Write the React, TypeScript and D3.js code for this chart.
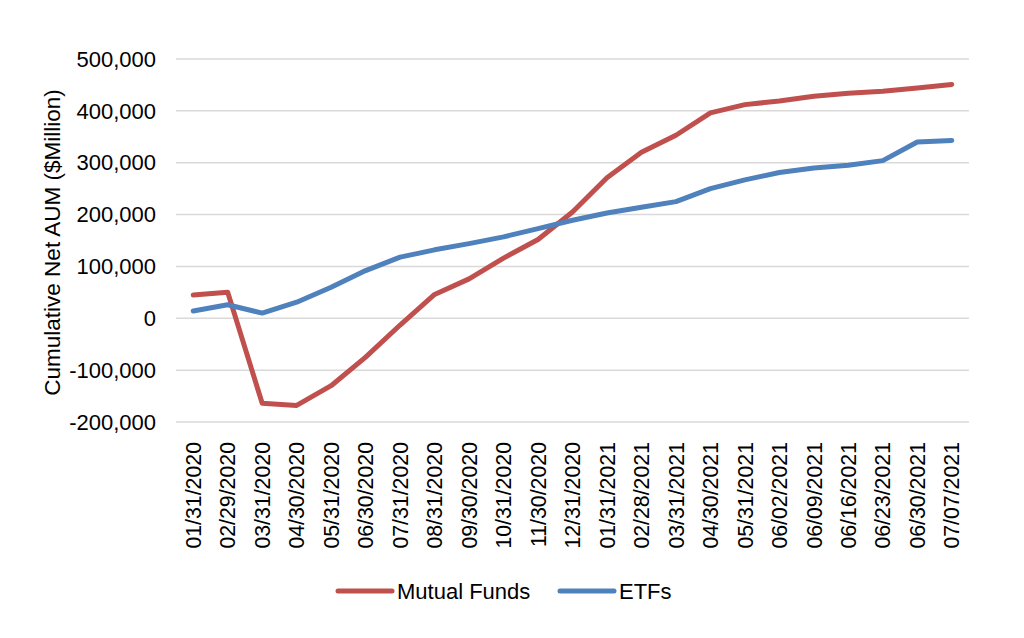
import React, { useEffect, useRef } from 'react';
import * as d3 from 'd3';

const dates = [
  '01/31/2020', '02/29/2020', '03/31/2020', '04/30/2020', '05/31/2020', '06/30/2020',
  '07/31/2020', '08/31/2020', '09/30/2020', '10/31/2020', '11/30/2020', '12/31/2020',
  '01/31/2021', '02/28/2021', '03/31/2021', '04/30/2021', '05/31/2021', '06/02/2021',
  '06/09/2021', '06/16/2021', '06/23/2021', '06/30/2021', '07/07/2021',
];

const mutualFunds = [
  45000, 50000, -164000, -168000, -130000, -75000, -13000, 46000, 76000, 116000, 152000, 205000,
  271000, 320000, 353000, 396000, 412000, 419000, 428000, 434000, 438000, 444000, 451000,
];

const etfs = [
  14000, 26000, 10000, 31000, 60000, 92000, 118000, 132000, 144000, 157000, 173000, 189000,
  203000, 214000, 225000, 250000, 267000, 281000, 290000, 295000, 304000, 340000, 343000,
];

const yTicks = [-200000, -100000, 0, 100000, 200000, 300000, 400000, 500000];

const RED = '#C0504D';
const BLUE = '#4F81BD';
const FONT = '"Liberation Sans", Arial, sans-serif';

const Chart = () => {
  const ref = useRef<SVGSVGElement>(null);

  useEffect(() => {
    const svg = d3.select(ref.current);
    svg.selectAll('*').remove();

    const left = 176, right = 969, top = 59, bottom = 422;

    const x = d3.scaleBand().domain(dates).range([left, right]);
    const y = d3.scaleLinear().domain([-200000, 500000]).range([bottom, top]);
    const cx = (d: string) => (x(d) as number) + x.bandwidth() / 2;
    const fmt = (v: number) => d3.format(',')(v).replace('\u2212', '-');

    // gridlines
    svg.append('g')
      .selectAll('line')
      .data(yTicks)
      .join('line')
      .attr('x1', left)
      .attr('x2', right)
      .attr('y1', d => y(d))
      .attr('y2', d => y(d))
      .attr('stroke', '#D9D9D9')
      .attr('stroke-width', 1.5);

    // y tick labels
    svg.append('g')
      .selectAll('text')
      .data(yTicks)
      .join('text')
      .attr('x', 156)
      .attr('y', d => y(d))
      .attr('dy', '0.35em')
      .attr('text-anchor', 'end')
      .attr('font-family', FONT)
      .attr('font-size', 22)
      .attr('fill', '#000')
      .text(d => fmt(d));

    // y title
    svg.append('text')
      .attr('transform', `translate(52, ${(top + bottom) / 2 + 2}) rotate(-90)`)
      .attr('text-anchor', 'middle')
      .attr('dy', '0.35em')
      .attr('font-family', FONT)
      .attr('font-size', 22.5)
      .attr('fill', '#000')
      .text('Cumulative Net AUM ($Million)');

    // x tick labels
    svg.append('g')
      .selectAll('text')
      .data(dates)
      .join('text')
      .attr('transform', d => `translate(${cx(d)}, 442) rotate(-90)`)
      .attr('text-anchor', 'end')
      .attr('dy', '0.36em')
      .attr('font-family', FONT)
      .attr('font-size', 21.3)
      .attr('fill', '#000')
      .text(d => d);

    const line = d3.line<number>()
      .x((_, i) => cx(dates[i]))
      .y(d => y(d));

    const series = [
      { name: 'Mutual Funds', values: mutualFunds, color: RED },
      { name: 'ETFs', values: etfs, color: BLUE },
    ];

    series.forEach(s => {
      svg.append('path')
        .datum(s.values)
        .attr('fill', 'none')
        .attr('stroke', s.color)
        .attr('stroke-width', 5)
        .attr('stroke-linejoin', 'round')
        .attr('stroke-linecap', 'round')
        .attr('d', line);
    });

    // legend
    const legend = svg.append('g');
    const legendItems = [
      { name: 'Mutual Funds', color: RED, x: 336 },
      { name: 'ETFs', color: BLUE, x: 558 },
    ];
    legendItems.forEach(item => {
      legend.append('line')
        .attr('x1', item.x + 2)
        .attr('x2', item.x + 56)
        .attr('y1', 591)
        .attr('y2', 591)
        .attr('stroke', item.color)
        .attr('stroke-width', 5)
        .attr('stroke-linecap', 'round');
      legend.append('text')
        .attr('x', item.x + 61)
        .attr('y', 591)
        .attr('dy', '0.35em')
        .attr('font-family', FONT)
        .attr('font-size', 22)
        .attr('fill', '#000')
        .text(item.name);
    });
  }, []);

  return (
    <svg
      ref={ref}
      width={1024}
      height={638}
      style={{ position: 'absolute', left: 0, top: 0, background: '#fff' }}
    />
  );
};

export default function App() {
  return <Chart />;
}
